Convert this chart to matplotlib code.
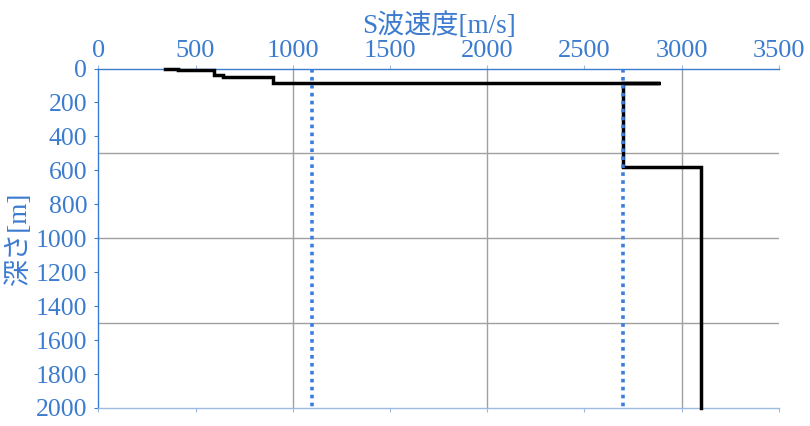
import matplotlib
matplotlib.use("Agg")
import matplotlib.pyplot as plt
import numpy as np

plt.rcParams['font.family'] = ['Liberation Serif', 'Noto Sans CJK JP', 'DejaVu Sans']

# Velocity profile (S-wave velocity [m/s] vs depth [m])
profile_vs = [343, 408, 408, 597, 597, 641, 641, 899, 899, 2889, 2700, 2700, 3100, 3100]
profile_depth = [0, 0, 8, 8, 39, 39, 49, 49, 84, 84, 84, 580, 580, 2000]

# Reference velocities (dotted lines)
ref_vs = [1100, 2700]

x_ticks = [0, 500, 1000, 1500, 2000, 2500, 3000, 3500]
y_ticks = [0, 200, 400, 600, 800, 1000, 1200, 1400, 1600, 1800, 2000]
x_grid = [1000, 2000, 3000]
y_grid = [500, 1000, 1500]

BLUE = '#3b7bd0'
LIGHTBLUE = '#9bbbe3'

fig = plt.figure(figsize=(8.1, 4.26), dpi=100)
ax = fig.add_axes([0.1214, 0.0423, 0.8400, 0.7969])

ax.set_xlim(0, 3500)
ax.set_ylim(2000, 0)

for g in x_grid:
    ax.axvline(g, color='#a0a0a0', lw=1.0, zorder=1)
for g in y_grid:
    ax.axhline(g, color='#a0a0a0', lw=1.0, zorder=1)

ax.plot(profile_vs, profile_depth, color='black', lw=2.5, zorder=4, clip_on=False,
        solid_joinstyle='miter')

for r in ref_vs:
    ax.plot([r, r], [0, 2000], color='#3a7ddc', lw=2.6, linestyle=(0, (1.0, 1.2)),
            dash_capstyle='butt', zorder=5, clip_on=False)

ax.set_xticks(x_ticks)
ax.set_yticks(y_ticks)
ax.xaxis.set_ticks_position('both')
ax.tick_params(axis='x', which='both', direction='out', labeltop=True, labelbottom=False,
               colors=LIGHTBLUE, labelcolor=BLUE, labelsize=19, length=3, pad=2)
ax.tick_params(axis='x', which='both', top=True)
ax.tick_params(axis='y', direction='out', colors=BLUE, labelcolor=BLUE, labelsize=18.5,
               length=3, pad=5)

ax.spines['right'].set_visible(False)
ax.spines['top'].set_color(BLUE)
ax.spines['left'].set_color(BLUE)
ax.spines['bottom'].set_color(LIGHTBLUE)
for s in ['top', 'left', 'bottom']:
    ax.spines[s].set_linewidth(1.0)

ax.xaxis.set_label_position('top')
ax.set_xlabel('S波速度[m/s]', color=BLUE, fontsize=19.5, labelpad=5)
ax.set_ylabel('深さ[m]', color=BLUE, fontsize=19.5)
ax.yaxis.set_label_coords(-0.097, 0.5)

fig.savefig('out.png', dpi=100)
